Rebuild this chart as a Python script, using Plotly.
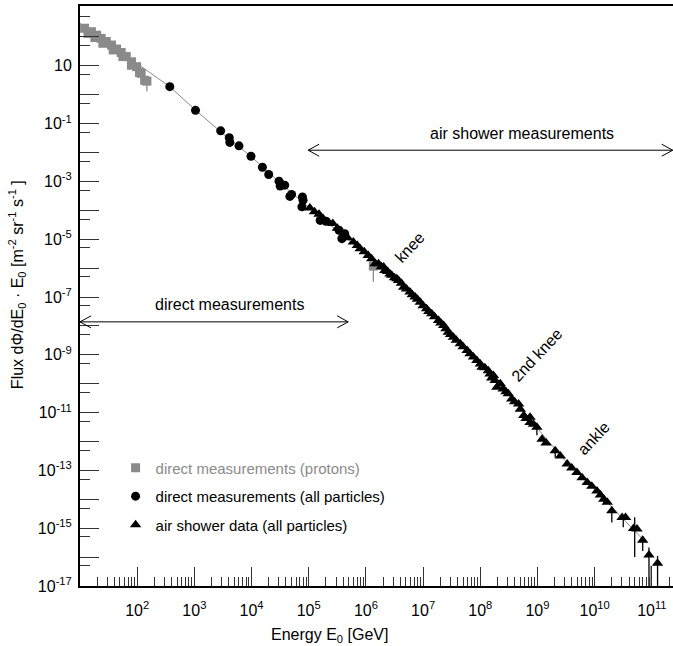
import numpy as np
import plotly.graph_objects as go

# ---- data (log10 of energy in GeV, log10 of flux*E0) ----
# direct measurements, protons
proton_loge = [1.08, 1.14, 1.20, 1.26, 1.29, 1.37, 1.40, 1.46, 1.55, 1.58, 1.64, 1.72,
               1.75, 1.81, 1.90, 1.90, 1.99, 2.04, 2.07, 2.13, 2.17, 6.13]
proton_logf = [2.30, 2.12, 2.18, 1.98, 2.06, 1.95, 1.78, 1.84, 1.72, 1.55, 1.58, 1.46,
               1.32, 1.32, 1.14, 1.02, 0.97, 0.77, 0.74, 0.50, 0.47, -5.93]

# direct measurements, all particles
direct_loge = [2.57, 3.02, 3.46, 3.61, 3.62, 3.78, 3.99, 4.19, 4.30, 4.48, 4.50, 4.52,
               4.58, 4.67, 4.70, 4.89, 4.90, 4.88, 5.20, 5.30, 5.53, 5.58, 5.63]
direct_logf = [0.28, -0.54, -1.25, -1.49, -1.65, -1.77, -2.13, -2.51, -2.76, -2.99, -3.16, -3.10,
               -3.13, -3.52, -3.45, -3.54, -3.65, -3.88, -4.35, -4.38, -4.69, -4.98, -4.81]

# air shower data, all particles
air_loge = [5.02, 5.10, 5.18, 5.25, 5.35, 5.42, 5.50, 5.60, 5.68, 5.78, 5.85, 5.90,
            5.97, 6.04, 6.10, 6.16, 6.22, 6.27, 6.31, 6.33, 6.38, 6.42, 6.45, 6.50,
            6.54, 6.57, 6.62, 6.66, 6.71, 6.77, 6.81, 6.86, 6.90, 6.95, 7.00, 7.06,
            7.10, 7.15, 7.20, 7.27, 7.31, 7.36, 7.40, 7.44, 7.48, 7.53, 7.58, 7.65,
            7.70, 7.77, 7.82, 7.88, 7.94, 8.00, 8.03, 8.08, 8.14, 8.17, 8.20, 8.23,
            8.26, 8.29, 8.35, 8.40, 8.45, 8.49, 8.55, 8.60, 8.67, 8.70, 8.76, 8.80,
            8.87, 8.87, 8.93, 8.99, 9.08, 9.15, 9.31, 9.40, 9.52, 9.60, 9.69, 9.78,
            9.87, 9.95, 10.04, 10.10, 10.16, 10.22, 10.30, 10.48, 10.54, 10.68, 10.74,
            10.84, 10.95, 11.10]
air_logf = [-3.92, -4.05, -4.14, -4.28, -4.42, -4.46, -4.62, -4.85, -4.95, -5.10, -5.22, -5.33,
            -5.43, -5.56, -5.68, -5.85, -5.85, -5.95, -5.96, -6.08, -6.12, -6.20, -6.25, -6.33,
            -6.37, -6.43, -6.52, -6.66, -6.72, -6.83, -6.92, -7.00, -7.08, -7.18, -7.30, -7.41,
            -7.50, -7.58, -7.68, -7.81, -7.90, -7.99, -8.10, -8.22, -8.30, -8.39, -8.50, -8.62,
            -8.72, -8.85, -8.96, -9.08, -9.20, -9.32, -9.43, -9.45, -9.55, -9.66, -9.80, -9.72,
            -9.89, -10.12, -10.00, -10.18, -10.28, -10.35, -10.53, -10.62, -10.70, -10.88, -11.10, -11.20,
            -11.16, -11.34, -11.40, -11.51, -11.92, -12.05, -12.32, -12.50, -12.78, -12.92, -13.07, -13.25,
            -13.42, -13.55, -13.71, -13.85, -14.00, -14.10, -14.40, -14.63, -14.63, -15.01, -15.03,
            -15.42, -15.93, -16.21]

# error bars: energy, lower and upper flux bound
bar_loge = [8.99, 9.31, 10.16, 10.30, 10.50, 10.70, 10.84, 10.95, 10.99, 11.10]
bar_lo = [-11.78, -12.55, -14.17, -14.80, -14.97, -16.00, -15.79, -17.0, -17.0, -17.0]
bar_hi = [-11.40, -12.20, -13.95, -14.45, -14.55, -14.62, -15.27, -15.67, -16.31, -15.96]
pbar_loge = [2.17, 6.13]
pbar_lo = [0.12, -6.47]
pbar_hi = [0.47, -5.93]

# all-particle spectrum curve
curve_loge = [1.0, 1.5, 2.04, 2.57, 3.0, 3.5, 4.0, 4.5, 5.0, 5.5, 6.0, 6.5, 7.0, 7.5,
              8.0, 8.5, 9.0, 9.5, 10.0, 10.5, 10.85]
curve_logf = [2.47, 1.77, 1.02, 0.28, -0.50, -1.35, -2.15, -3.05, -3.90, -4.70, -5.52, -6.33,
              -7.28, -8.30, -9.33, -10.40, -11.55, -12.70, -13.66, -14.68, -15.40]

x_ticks = list(range(2, 12))
y_ticks = list(range(-17, 3))

FONT = "Liberation Sans, Arial, sans-serif"
GRAY = "#8a8a8a"


def p10(v):
    return np.power(10.0, np.asarray(v, dtype=float))


def bar_xy(le, lo, hi):
    xs, ys = [], []
    for e, a, b in zip(le, lo, hi):
        xs += [10 ** e, 10 ** e, None]
        ys += [10 ** a, 10 ** b, None]
    return xs, ys


fig = go.Figure()

fig.add_trace(go.Scatter(x=p10(curve_loge), y=p10(curve_logf), mode="lines",
                         line=dict(color="#8c8c8c", width=1), showlegend=False, hoverinfo="skip"))

bx, by = bar_xy(pbar_loge, pbar_lo, pbar_hi)
fig.add_trace(go.Scatter(x=bx, y=by, mode="lines", line=dict(color=GRAY, width=1.3),
                         showlegend=False, hoverinfo="skip"))
bx, by = bar_xy(bar_loge, bar_lo, bar_hi)
fig.add_trace(go.Scatter(x=bx, y=by, mode="lines", line=dict(color="black", width=1.3),
                         showlegend=False, hoverinfo="skip"))

fig.add_trace(go.Scatter(x=p10(proton_loge), y=p10(proton_logf), mode="markers",
                         name="<span style='color:#8a8a8a'>direct measurements (protons)</span>",
                         legendgroup="a",
                         marker=dict(symbol="square", size=9, color=GRAY)))
fig.add_trace(go.Scatter(x=p10(direct_loge), y=p10(direct_logf), mode="markers",
                         name="direct measurements (all particles)", legendgroup="b",
                         marker=dict(symbol="circle", size=9, color="black")))
fig.add_trace(go.Scatter(x=p10(air_loge), y=p10(air_logf), mode="markers",
                         name="air shower data (all particles)", legendgroup="c",
                         marker=dict(symbol="triangle-up", size=10, color="black")))


# double-headed range arrows (shape positions on log axes are data values)
def range_arrow(lx0, lx1, ly):
    x0, x1, y = 10 ** lx0, 10 ** lx1, 10 ** ly
    fig.add_shape(type="line", xref="x", yref="y", x0=x0, x1=x1, y0=y, y1=y,
                  line=dict(color="black", width=1))
    for xa, path in ((x0, "M 11,6 L 0,0 L 11,-6"), (x1, "M -11,6 L 0,0 L -11,-6")):
        fig.add_shape(type="path", xref="x", yref="y", xsizemode="pixel", ysizemode="pixel",
                      xanchor=xa, yanchor=y, path=path, line=dict(color="black", width=1))


range_arrow(4.99, 11.365, -1.92)
range_arrow(1.0, 5.69, -7.86)

notes = [
    ("air shower measurements", 8.73, -1.34, 0),
    ("direct measurements", 3.62, -7.27, 0),
    ("knee", 6.76, -5.27, -47),
    ("2nd knee", 9.0, -9.0, -47),
    ("ankle", 9.98, -11.91, -47),
]
for txt, xv, yv, ang in notes:
    fig.add_annotation(text=txt, x=xv, y=yv, xref="x", yref="y", showarrow=False,
                       textangle=ang, font=dict(family=FONT, size=16, color="black"))

# axis titles
fig.add_annotation(text="Flux dΦ/dE<sub>0</sub> · E<sub>0</sub> [m<sup>-2</sup> sr<sup>-1</sup> s<sup>-1</sup> ]",
                   xref="paper", yref="paper", x=-0.105, y=0.52, xanchor="center", yanchor="middle",
                   textangle=-90, showarrow=False,
                   font=dict(family=FONT, size=16, color="black"))
fig.add_annotation(text="Energy E<sub>0</sub> [GeV]", xref="paper", yref="paper",
                   x=0.42, y=-0.086, xanchor="center", yanchor="middle", showarrow=False,
                   font=dict(family=FONT, size=16, color="black"))

x_minor = [m * 10 ** k for k in range(1, 12) for m in range(2, 10) if m * 10 ** k < 10 ** 11.37]
y_minor = [5 * 10.0 ** k for k in range(-18, 3)]

fig.update_xaxes(type="log", range=[1.0, 11.37], showline=True, linecolor="black", linewidth=2,
                 mirror=True, ticks="inside", ticklen=19, tickwidth=1, tickcolor="#333",
                 tickvals=[10.0 ** k for k in x_ticks],
                 ticktext=[f"10<sup>{k}</sup>" for k in x_ticks],
                 tickfont=dict(family=FONT, size=16, color="black"),
                 ticklabelstandoff=9, showgrid=False, zeroline=False,
                 minor=dict(tickvals=x_minor, ticks="inside", ticklen=9, tickwidth=1,
                            tickcolor="#333", showgrid=False))
fig.update_yaxes(type="log", range=[-17, 3.07], showline=True, linecolor="black", linewidth=2,
                 mirror=False, ticks="inside", ticklen=19, tickwidth=1, tickcolor="#333",
                 tickvals=[10.0 ** k for k in y_ticks],
                 ticktext=[("10" if k == 1 else f"10<sup>{k}</sup>") if k % 2 else "" for k in y_ticks],
                 tickfont=dict(family=FONT, size=16, color="black"),
                 ticklabelstandoff=3, showgrid=False, zeroline=False,
                 minor=dict(tickvals=y_minor, ticks="inside", ticklen=10, tickwidth=1,
                            tickcolor="#333", showgrid=False))

fig.update_layout(width=673, height=646, margin=dict(l=80, r=0, t=6, b=60),
                  plot_bgcolor="white", paper_bgcolor="white",
                  font=dict(family=FONT, size=15, color="black"),
                  legend=dict(x=0.06, y=0.232, xanchor="left", yanchor="top",
                              traceorder="grouped", tracegroupgap=6,
                              bgcolor="rgba(0,0,0,0)", font=dict(family=FONT, size=15)))

fig.write_html("out.html")
